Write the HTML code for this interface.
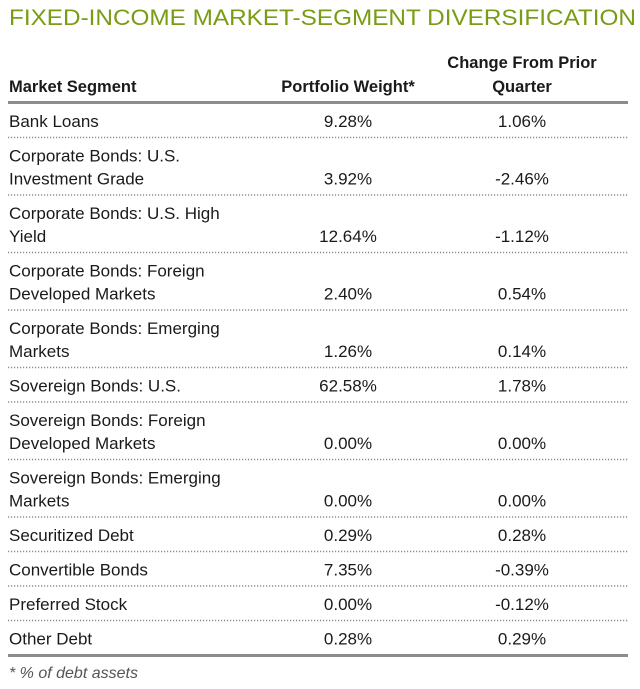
<!DOCTYPE html>
<html><head><meta charset="utf-8"><style>
html,body{margin:0;padding:0;background:#fff;}
svg{display:block;font-family:"Liberation Sans",sans-serif;}
</style></head><body>
<svg id="t" width="640" height="689" viewBox="0 0 640 689">
<text x="9" y="25" font-size="22" fill="#7a9c14" textLength="627" lengthAdjust="spacingAndGlyphs">FIXED-INCOME MARKET-SEGMENT DIVERSIFICATION</text>
<g font-weight="bold" font-size="16.5" fill="#1a1a1a">
<text x="9" y="92">Market Segment</text>
<text x="348" y="92" text-anchor="middle">Portfolio Weight*</text>
<text x="522" y="68" text-anchor="middle">Change From Prior</text>
<text x="522" y="92" text-anchor="middle">Quarter</text>
</g>
<rect x="8" y="101" width="620" height="3" fill="#8a8c8e"/>
<rect x="8" y="654" width="620" height="3" fill="#8a8c8e"/>
<text x="9" y="678" font-size="16" font-style="italic" fill="#555">* % of debt assets</text>
<g id="rows" font-size="17" fill="#1a1a1a"></g>
</svg>
<script>
const segments=[["Bank Loans"],["Corporate Bonds: U.S.","Investment Grade"],["Corporate Bonds: U.S. High","Yield"],["Corporate Bonds: Foreign","Developed Markets"],["Corporate Bonds: Emerging","Markets"],["Sovereign Bonds: U.S."],["Sovereign Bonds: Foreign","Developed Markets"],["Sovereign Bonds: Emerging","Markets"],["Securitized Debt"],["Convertible Bonds"],["Preferred Stock"],["Other Debt"]];
const weights=["9.28%","3.92%","12.64%","2.40%","1.26%","62.58%","0.00%","0.00%","0.29%","7.35%","0.00%","0.28%"];
const changes=["1.06%","-2.46%","-1.12%","0.54%","0.14%","1.78%","0.00%","0.00%","0.28%","-0.39%","-0.12%","0.29%"];
const ns="http://www.w3.org/2000/svg";
const g=document.getElementById('rows');
let rowY=104;
segments.forEach((seg,i)=>{
  const h=seg.length===2?57.5:34.5;
  const lastBase=rowY+h-11.5;
  seg.forEach((line,j)=>{
    const t=document.createElementNS(ns,'text');
    t.setAttribute('x',9);
    t.setAttribute('y',lastBase-(seg.length-1-j)*23);
    t.textContent=line;
    
    
    g.appendChild(t);
  });
  const w=document.createElementNS(ns,'text');
  w.setAttribute('x',348);w.setAttribute('y',lastBase);w.setAttribute('text-anchor','middle');
  w.textContent=weights[i];
  
  
  g.appendChild(w);
  const c=document.createElementNS(ns,'text');
  c.setAttribute('x',522);c.setAttribute('y',lastBase);c.setAttribute('text-anchor','middle');
  c.textContent=changes[i];
  
  
  g.appendChild(c);
  rowY+=h;
  if(i<segments.length-1){
    const l=document.createElementNS(ns,'line');
    l.setAttribute('x1',8);l.setAttribute('x2',628);
    l.setAttribute('y1',rowY-1);l.setAttribute('y2',rowY-1);
    l.setAttribute('stroke','#8a8c8e');l.setAttribute('stroke-width','1.5');
    l.setAttribute('stroke-dasharray','1.2 1.8');
    
    
    g.appendChild(l);
  }
});
</script>
</body></html>
